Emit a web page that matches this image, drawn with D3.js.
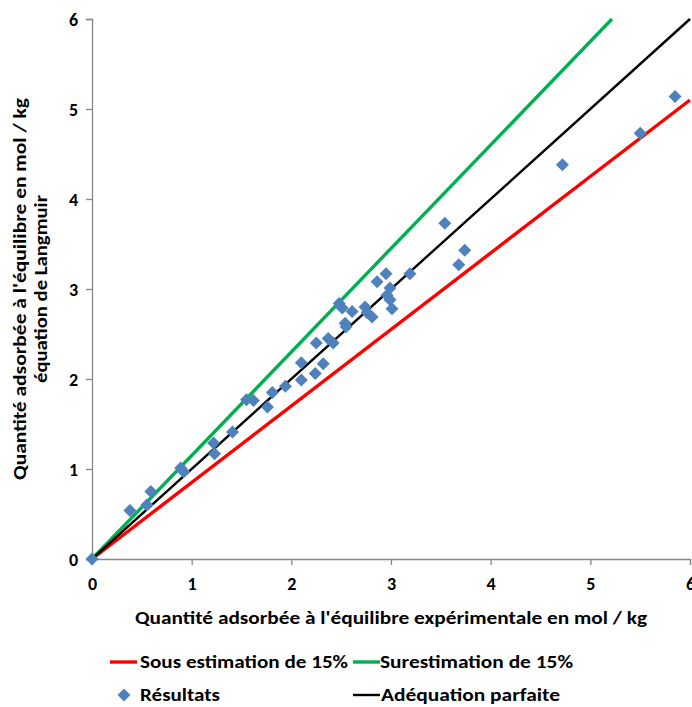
<!DOCTYPE html>
<html><head><meta charset="utf-8">
<script src="https://cdn.jsdelivr.net/npm/d3@7"></script>
<style>
body{margin:0;background:#fff;}
text{font-family:Carlito,Calibri,"Open Sans",sans-serif;font-weight:bold;fill:#000;}
</style></head>
<body><svg id="c" width="692" height="707"></svg>
<script>
const xTicks=[0,1,2,3,4,5,6];
const yTicks=[0,1,2,3,4,5,6];
const resX=[0,0.38,0.55,0.59,0.89,0.92,1.22,1.23,1.41,1.55,1.62,1.76,1.81,1.94,2.10,2.10,2.25,2.24,2.32,2.37,2.42,2.48,2.51,2.54,2.55,2.61,2.74,2.76,2.81,2.86,2.95,2.99,2.96,2.99,3.01,3.19,3.54,3.68,3.74,4.72,5.50,5.85];
const resY=[0,0.54,0.60,0.75,1.01,0.97,1.29,1.17,1.41,1.77,1.76,1.69,1.85,1.92,2.18,1.99,2.40,2.06,2.17,2.45,2.40,2.84,2.79,2.62,2.58,2.75,2.80,2.74,2.69,3.08,3.17,3.01,2.93,2.88,2.78,3.17,3.73,3.27,3.43,4.38,4.73,5.14];
const underX=[0,6], underY=[0,5.1];
const overX=[0,5.217], overY=[0,6];
const perfectX=[0,6], perfectY=[0,6];
const legendLabels=["Sous estimation de 15%","Surestimation de 15%","Résultats","Adéquation parfaite"];
const xTitle="Quantité adsorbée à l'équilibre expérimentale en mol / kg";
const yTitle1="Quantité adsorbée à l'équilibre en mol / kg";
const yTitle2="équation de Langmuir";

const svg=d3.select("#c");
const x=d3.scaleLinear().domain([0,6]).range([92,690]);
const y=d3.scaleLinear().domain([0,6]).range([559,19]);
const axisCol="#868686";

// axes
const gx=svg.append("g").attr("transform","translate(0,559)")
  .call(d3.axisBottom(x).tickValues(xTicks).tickSize(6).tickFormat(d3.format("d")));
const gy=svg.append("g").attr("transform","translate(92,0)")
  .call(d3.axisLeft(y).tickValues(yTicks).tickSize(6).tickFormat(d3.format("d")));
[gx,gy].forEach(g=>{
  g.select(".domain").attr("stroke",axisCol).attr("stroke-width",1.3);
  g.selectAll(".tick line").attr("stroke",axisCol).attr("stroke-width",1.3);
  g.selectAll(".tick text").attr("fill","#000").style("font-size","18px").style("font-family",'Carlito,Calibri,"Open Sans",sans-serif').style("font-weight","bold");
});
gx.selectAll(".tick text").attr("y",18);
gy.selectAll(".tick text").attr("x",-14).attr("dy","0.35em");

// lines
const line=d3.line().x(d=>x(d[0])).y(d=>y(d[1]));
const seriesLines=[
  {xs:underX,ys:underY,c:"#FF0000",w:3.4},
  {xs:overX,ys:overY,c:"#00B050",w:3.4},
  {xs:perfectX,ys:perfectY,c:"#000000",w:2.4}
];
seriesLines.forEach(s=>{
  svg.append("path").datum(s.xs.map((v,i)=>[v,s.ys[i]]))
    .attr("d",line).attr("fill","none").attr("stroke",s.c).attr("stroke-width",s.w);
});

// points
const diamond=(cx,cy,r)=>`M${cx},${cy-r}L${cx+r},${cy}L${cx},${cy+r}L${cx-r},${cy}Z`;
svg.append("g").selectAll("path").data(resX.map((v,i)=>[v,resY[i]])).join("path")
  .attr("d",d=>diamond(x(d[0]),y(d[1]),6.5)).attr("fill","#4F81BD");

// titles
svg.append("text").attr("x",135).attr("y",624).attr("textLength",512).attr("lengthAdjust","spacingAndGlyphs")
  .style("font-size","17px").text(xTitle);
svg.append("text").attr("transform","translate(26,289) rotate(-90)").attr("text-anchor","middle")
  .attr("textLength",382).attr("lengthAdjust","spacingAndGlyphs").style("font-size","17px").text(yTitle1);
svg.append("text").attr("transform","translate(47,289) rotate(-90)").attr("text-anchor","middle")
  .attr("textLength",188).attr("lengthAdjust","spacingAndGlyphs").style("font-size","17px").text(yTitle2);

// legend
const leg=[
  {t:legendLabels[0],type:"line",c:"#FF0000",lx:110,tx:140,y:662,w:208,sw:3.4},
  {t:legendLabels[1],type:"line",c:"#00B050",lx:353,tx:380,y:662,w:193,sw:3.4},
  {t:legendLabels[2],type:"pt",c:"#4F81BD",lx:124,tx:140,y:695,w:80},
  {t:legendLabels[3],type:"line",c:"#000000",lx:353,tx:381,y:695,w:179,sw:2.4}
];
leg.forEach(l=>{
  if(l.type==="line"){
    svg.append("line").attr("x1",l.lx).attr("x2",l.lx+27).attr("y1",l.y).attr("y2",l.y)
      .attr("stroke",l.c).attr("stroke-width",l.sw);
  } else {
    svg.append("path").attr("d",diamond(l.lx,l.y,6.5)).attr("fill",l.c);
  }
  svg.append("text").attr("x",l.tx).attr("y",l.y+6).attr("textLength",l.w).attr("lengthAdjust","spacingAndGlyphs")
    .style("font-size","17px").text(l.t);
});
</script></body></html>
